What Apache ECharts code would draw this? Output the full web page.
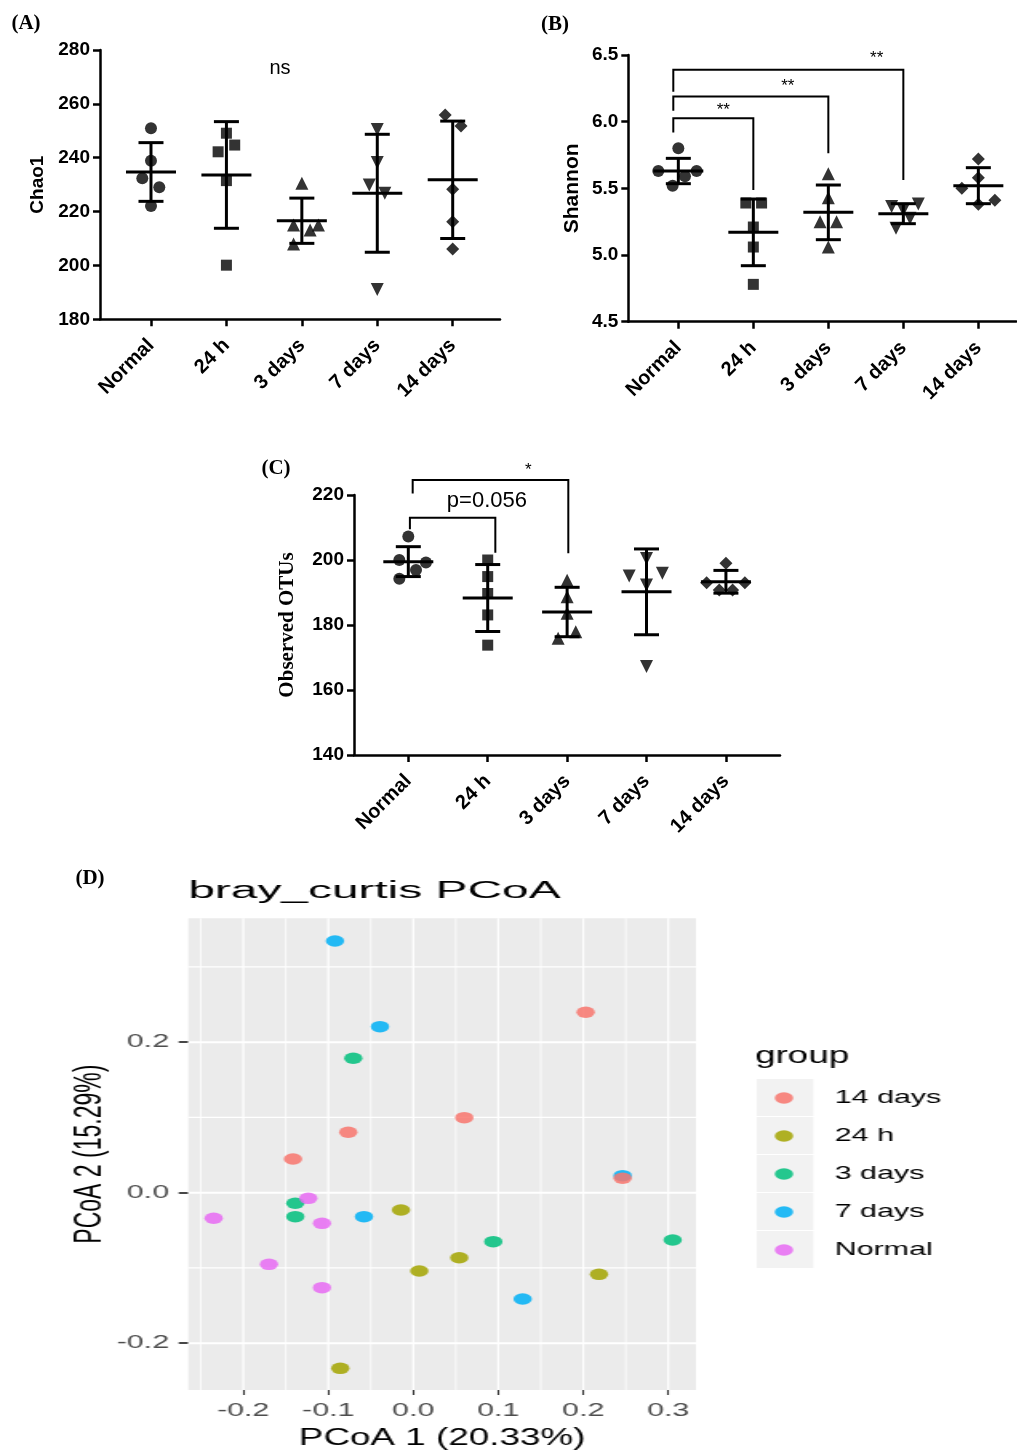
<!DOCTYPE html>
<html><head><meta charset="utf-8">
<script src="https://cdn.jsdelivr.net/npm/echarts@6/dist/echarts.min.js"></script>
<style>
html,body{margin:0;padding:0;background:#fff;}
#main{position:absolute;left:0;top:0;width:1017px;height:1453px;}
#pcoa{position:absolute;left:0;top:850px;width:635.625px;height:603px;transform:scaleX(1.6);transform-origin:0 0;}
</style></head><body>
<div id="main"></div><div id="pcoa"></div>
<script>
// ---------- data ----------
const groups = ['Normal', '24 h', '3 days', '7 days', '14 days'];

const chao1Values = [
  [250.9, 238.9, 232.4, 229.0, 222.1],
  [249.1, 244.7, 242.2, 231.5, 200.1],
  [230.5, 215.0, 213.2, 215.0, 208.0],
  [250.5, 238.2, 229.9, 226.8, 191.1],
  [255.9, 251.8, 228.3, 216.2, 206.1]
];
const chao1Jitter = [
  [0, 0, -0.115, 0.11, 0],
  [0, 0.11, -0.11, 0, 0],
  [0, -0.11, 0.11, 0.22, -0.11],
  [0, 0, -0.106, 0.10, 0],
  [-0.10, 0.11, 0, 0, 0]
];
const chao1Mean = [234.7, 233.6, 216.6, 226.8, 231.8];
const chao1SD = [10.9, 19.8, 8.4, 21.9, 21.8];
const chao1Notes = [['ns', 1.71, 273.3]];

const shannonValues = [
  [5.80, 5.63, 5.63, 5.59, 5.52],
  [5.39, 5.39, 5.21, 5.06, 4.78],
  [5.61, 5.43, 5.25, 5.25, 5.06],
  [5.363, 5.383, 5.338, 5.276, 5.20],
  [5.72, 5.50, 5.58, 5.41, 5.38]
];
const shannonJitter = [
  [0, -0.267, 0.244, 0.089, -0.076],
  [-0.10, 0.11, 0, 0, 0],
  [0, 0, -0.11, 0.11, 0],
  [-0.156, 0.2, 0, 0.089, -0.098],
  [0, -0.22, 0, 0.22, 0]
];
const shannonMean = [5.63, 5.17, 5.32, 5.31, 5.52];
const shannonSD = [0.095, 0.25, 0.205, 0.075, 0.135];
// [xLeft, xRight, yTop, yLeftEnd, yRightEnd]
const shannonBrackets = [
  [-0.067, 3.0, 6.389, 6.225, 5.563],
  [-0.067, 2.0, 6.188, 6.081, 5.763],
  [-0.067, 1.0, 6.026, 5.918, 5.488]
];
const shannonNotes = [['**', 2.645, 6.478], ['**', 1.46, 6.263], ['**', 0.6, 6.088]];

const otuValues = [
  [207.2, 200.0, 199.2, 196.9, 194.2],
  [200.0, 194.9, 189.7, 183.1, 173.8],
  [193.8, 188.7, 183.6, 177.9, 175.9],
  [200.5, 195.1, 195.9, 192.3, 167.2],
  [199.0, 193.0, 193.0, 190.8, 190.8]
];
const otuJitter = [
  [0, -0.113, 0.222, 0.097, -0.113],
  [0, 0, 0, 0, 0],
  [0, 0, 0, 0.109, -0.113],
  [0, -0.218, 0.2, 0, 0],
  [0, -0.243, 0.239, -0.084, 0.084]
];
const otuMean = [199.5, 188.3, 184.0, 190.2, 193.3];
const otuSD = [4.6, 10.3, 7.6, 13.2, 3.5];
const otuBrackets = [
  [0.055, 2.015, 224.6, 220.5, 202.1],
  [0.02, 1.096, 213.0, 209.5, 202.2]
];
const otuNotes = [['*', 1.51, 227.7], ['p=0.056', 0.99, 218.2]];

// PCoA
const pcoaGroups = ['14 days', '24 h', '3 days', '7 days', 'Normal'];
const pcoa14days = [[0.2028, 0.2397], [0.06, 0.0997], [-0.0765, 0.0803], [-0.1415, 0.0448], [0.2463, 0.0191]];
const pcoa24h = [[-0.0145, -0.023], [0.0541, -0.0864], [0.0071, -0.104], [0.2185, -0.1085], [-0.0859, -0.2334]];
const pcoa3days = [[-0.0706, 0.1786], [-0.1388, -0.0141], [-0.1388, -0.0319], [0.0941, -0.0651], [0.3052, -0.0629]];
const pcoa7days = [[-0.0921, 0.3345], [-0.0392, 0.2206], [-0.058, -0.0319], [0.1287, -0.1413], [0.2463, 0.0226]];
const pcoaNormal = [[-0.1235, -0.0075], [-0.2348, -0.034], [-0.1074, -0.0407], [-0.1698, -0.0952], [-0.1074, -0.1262]];
const pc1Ticks = [-0.2, -0.1, 0.0, 0.1, 0.2, 0.3];
const pc2Ticks = [-0.2, 0.0, 0.2];
const pc1MinorGrid = [-0.25, -0.15, -0.05, 0.05, 0.15, 0.25];
const pc2MinorGrid = [-0.1, 0.1, 0.3];

// ---------- chart 1: panels A-C ----------
const SANS = "'Liberation Sans', Arial, sans-serif";
const SERIF = "'Liberation Serif', 'Times New Roman', serif";
const symbols = ['circle', 'rect', 'triangle', 'triangle', 'diamond'];
const symbolRot = [0, 0, 0, 180, 0];
const symbolSizes = [12, 11, 13, 13, 13];

function xAxisFor(gridIndex, min, max) {
  return {
    type: 'value', gridIndex, min, max,
    axisLine: {show: true, onZero: false, lineStyle: {color: '#000', width: 2.5}},
    axisTick: {show: true, customValues: [0, 1, 2, 3, 4], length: 7, lineStyle: {color: '#000', width: 2.5}},
    axisLabel: {show: true, customValues: [0, 1, 2, 3, 4], rotate: 45, margin: 23,
      formatter: v => groups[Math.round(v)], color: '#000', fontFamily: SANS, fontWeight: 'bold', fontSize: 20},
    splitLine: {show: false}
  };
}
function yAxisFor(gridIndex, min, max, interval, name, nameGap, nameFont, nameSize, decimals) {
  return {
    type: 'value', gridIndex, min, max, interval,
    name, nameLocation: 'middle', nameGap,
    nameTextStyle: {fontFamily: nameFont, fontWeight: 'bold', fontSize: nameSize, color: '#000'},
    axisLine: {show: true, onZero: false, lineStyle: {color: '#000', width: 2.5}},
    axisTick: {show: true, length: 7, lineStyle: {color: '#000', width: 2.5}},
    axisLabel: {margin: 10, color: '#000', fontFamily: SANS, fontWeight: 'bold', fontSize: 19,
      formatter: v => v.toFixed(decimals)},
    splitLine: {show: false}
  };
}

function pointSeries(idx, values, jitter) {
  return groups.map((g, gi) => ({
    type: 'scatter', xAxisIndex: idx, yAxisIndex: idx,
    symbol: symbols[gi], symbolRotate: symbolRot[gi], symbolSize: symbolSizes[gi],
    itemStyle: {color: '#000'}, z: 3, silent: true,
    data: values[gi].map((v, k) => [gi + jitter[gi][k], v])
  }));
}
function errorSeries(idx, means, sds) {
  return {
    type: 'custom', xAxisIndex: idx, yAxisIndex: idx, silent: true, z: 2,
    encode: {x: 0, y: 1},
    data: means.map((m, i) => [i, m, sds[i]]),
    renderItem: (params, api) => {
      const x = api.value(0), m = api.value(1), s = api.value(2);
      const c = api.coord([x, m]), t = api.coord([x, m + s]), b = api.coord([x, m - s]);
      const st = {stroke: '#000', lineWidth: 3};
      const ln = (x1, y1, x2, y2) => ({type: 'line', shape: {x1, y1, x2, y2}, style: st});
      return {type: 'group', children: [
        ln(c[0] - 25, c[1], c[0] + 25, c[1]),
        ln(t[0], t[1], b[0], b[1]),
        ln(t[0] - 12.5, t[1], t[0] + 12.5, t[1]),
        ln(b[0] - 12.5, b[1], b[0] + 12.5, b[1])
      ]};
    }
  };
}
function bracketSeries(idx, brackets) {
  return {
    type: 'custom', xAxisIndex: idx, yAxisIndex: idx, silent: true, clip: false,
    encode: {x: [0, 1], y: [2, 3, 4]},
    data: brackets,
    renderItem: (params, api) => {
      const xl = api.value(0), xr = api.value(1), yt = api.value(2), yl = api.value(3), yr = api.value(4);
      return {type: 'polyline', shape: {points: [api.coord([xl, yl]), api.coord([xl, yt]), api.coord([xr, yt]), api.coord([xr, yr])]},
        style: {stroke: '#000', lineWidth: 2, fill: null}};
    }
  };
}
function noteSeries(idx, notes, fontSize) {
  return {
    type: 'custom', xAxisIndex: idx, yAxisIndex: idx, silent: true, clip: false,
    encode: {x: 1, y: 2},
    data: notes,
    renderItem: (params, api) => {
      const p = api.coord([api.value(1), api.value(2)]);
      return {type: 'text', x: p[0], y: p[1], style: {text: notes[params.dataIndex][0], fontSize: fontSize[params.dataIndex] || fontSize[0],
        fontFamily: SANS, fill: '#000', align: 'center', verticalAlign: 'middle'}};
    }
  };
}

const chart1 = echarts.init(document.getElementById('main'), null, {renderer: 'canvas'});
chart1.setOption({
  animation: false,
  backgroundColor: '#fff',
  grid: [
    {left: 100, top: 50, width: 400, height: 269.3, outerBoundsMode: 'none'},
    {left: 628.3, top: 55, width: 388, height: 266.7, outerBoundsMode: 'none'},
    {left: 354, top: 495, width: 426, height: 260, outerBoundsMode: 'none'}
  ],
  xAxis: [xAxisFor(0, -0.676, 4.627), xAxisFor(1, -0.667, 4.506), xAxisFor(2, -0.684, 4.681)],
  yAxis: [
    yAxisFor(0, 180, 280, 20, 'Chao1', 53, SANS, 19, 0),
    yAxisFor(1, 4.5, 6.5, 0.5, 'Shannon', 46, SANS, 21, 1),
    yAxisFor(2, 140, 220, 20, 'Observed OTUs', 56, SERIF, 21, 0)
  ],
  graphic: [
    {type: 'text', x: 26, y: 24, style: {text: '(A)', fontFamily: SERIF, fontWeight: 'bold', fontSize: 21, fill: '#000', align: 'center', verticalAlign: 'middle'}},
    {type: 'text', x: 555, y: 25, style: {text: '(B)', fontFamily: SERIF, fontWeight: 'bold', fontSize: 21, fill: '#000', align: 'center', verticalAlign: 'middle'}},
    {type: 'text', x: 276, y: 469, style: {text: '(C)', fontFamily: SERIF, fontWeight: 'bold', fontSize: 21, fill: '#000', align: 'center', verticalAlign: 'middle'}},
    {type: 'text', x: 90, y: 879, style: {text: '(D)', fontFamily: SERIF, fontWeight: 'bold', fontSize: 21, fill: '#000', align: 'center', verticalAlign: 'middle'}}
  ],
  series: [].concat(
    pointSeries(0, chao1Values, chao1Jitter), [errorSeries(0, chao1Mean, chao1SD), noteSeries(0, chao1Notes, [20])],
    pointSeries(1, shannonValues, shannonJitter), [errorSeries(1, shannonMean, shannonSD), bracketSeries(1, shannonBrackets), noteSeries(1, shannonNotes, [17])],
    pointSeries(2, otuValues, otuJitter), [errorSeries(2, otuMean, otuSD), bracketSeries(2, otuBrackets), noteSeries(2, otuNotes, [17, 22])]
  )
});

// ---------- chart 2: panel D (drawn in a horizontally stretched box) ----------
const pcoaData = {'14 days': pcoa14days, '24 h': pcoa24h, '3 days': pcoa3days, '7 days': pcoa7days, 'Normal': pcoaNormal};
const pcoaColors = {'14 days': '#F8766D', '24 h': '#A3A500', '3 days': '#00BF7D', '7 days': '#00B0F6', 'Normal': '#E76BF3'};
const pcoaZ = {'14 days': 6, '24 h': 5, '3 days': 5, '7 days': 5, 'Normal': 5};

function gridLineSeries(vals, vertical, width) {
  return {
    type: 'custom', silent: true, z: 1,
    encode: {x: 0, y: 1},
    data: vals.map(v => vertical ? [v, 0] : [0, v]),
    renderItem: (params, api) => {
      const cs = params.coordSys;
      const p = api.coord([api.value(0), api.value(1)]);
      const shape = vertical ? {x1: p[0], y1: cs.y, x2: p[0], y2: cs.y + cs.height}
                             : {x1: cs.x, y1: p[1], x2: cs.x + cs.width, y2: p[1]};
      return {type: 'line', shape, style: {stroke: '#fff', lineWidth: width}};
    }
  };
}

const chart2 = echarts.init(document.getElementById('pcoa'), null, {renderer: 'canvas'});
chart2.setOption({
  animation: false,
  grid: {left: 117.7, top: 68.3, width: 317.3, height: 471.7, show: true, backgroundColor: '#EBEBEB', borderWidth: 0, outerBoundsMode: 'none'},
  xAxis: {
    type: 'value', min: -0.2647, max: 0.3326,
    name: 'PCoA 1 (20.33%)', nameLocation: 'middle', nameGap: 37,
    nameTextStyle: {fontFamily: SANS, fontSize: 23, color: '#000'},
    axisLine: {show: false, onZero: false},
    axisTick: {show: true, customValues: pc1Ticks, length: 5, lineStyle: {color: '#333', width: 1.1}},
    axisLabel: {customValues: pc1Ticks, formatter: v => v.toFixed(1), color: '#4D4D4D', fontFamily: SANS, fontSize: 19, margin: 11},
    splitLine: {show: false}
  },
  yAxis: {
    type: 'value', min: -0.2622, max: 0.3646,
    name: 'PCoA 2 (15.29%)', nameLocation: 'middle', nameGap: 50,
    nameTextStyle: {fontFamily: SANS, fontSize: 23, color: '#000'},
    axisLine: {show: false, onZero: false},
    axisTick: {show: true, customValues: pc2Ticks, length: 6, lineStyle: {color: '#333', width: 1.8}},
    axisLabel: {customValues: pc2Ticks, formatter: v => v.toFixed(1), color: '#4D4D4D', fontFamily: SANS, fontSize: 19, margin: 12},
    splitLine: {show: false}
  },
  legend: {
    orient: 'vertical', left: 484.25, top: 238, padding: 0, itemWidth: 11.5, itemHeight: 11.5, itemGap: 18,
    icon: 'circle', data: pcoaGroups, selectedMode: false, z: 10,
    textStyle: {fontFamily: SANS, fontSize: 19, color: '#000', lineHeight: 20, padding: [0, 0, 0, 21]}
  },
  graphic: [
    {type: 'text', x: 117.7, y: 42, scaleX: 1.3, style: {text: 'bray_curtis PCoA', fontFamily: SANS, fontSize: 23, fill: '#000', verticalAlign: 'middle'}},
    {type: 'text', x: 471.9, y: 207, style: {text: 'group', fontFamily: SANS, fontSize: 23, fill: '#000', verticalAlign: 'middle'}},
    {type: 'rect', x: 472.9, y: 229, z: 1, shape: {width: 35.4, height: 37}, style: {fill: '#F2F2F2'}},
    {type: 'rect', x: 472.9, y: 267, z: 1, shape: {width: 35.4, height: 37}, style: {fill: '#F2F2F2'}},
    {type: 'rect', x: 472.9, y: 305, z: 1, shape: {width: 35.4, height: 37}, style: {fill: '#F2F2F2'}},
    {type: 'rect', x: 472.9, y: 343, z: 1, shape: {width: 35.4, height: 37}, style: {fill: '#F2F2F2'}},
    {type: 'rect', x: 472.9, y: 381, z: 1, shape: {width: 35.4, height: 37}, style: {fill: '#F2F2F2'}}
  ],
  series: [
    gridLineSeries(pc1MinorGrid, true, 0.8),
    gridLineSeries(pc1Ticks, true, 1.25),
    gridLineSeries(pc2MinorGrid, false, 1.3),
    gridLineSeries(pc2Ticks, false, 2)
  ].concat(pcoaGroups.map(g => ({
    name: g, type: 'scatter', symbol: 'circle', symbolSize: 11.5, z: pcoaZ[g],
    itemStyle: {color: pcoaColors[g], opacity: 0.85},
    data: pcoaData[g]
  })))
});
</script>
</body></html>
